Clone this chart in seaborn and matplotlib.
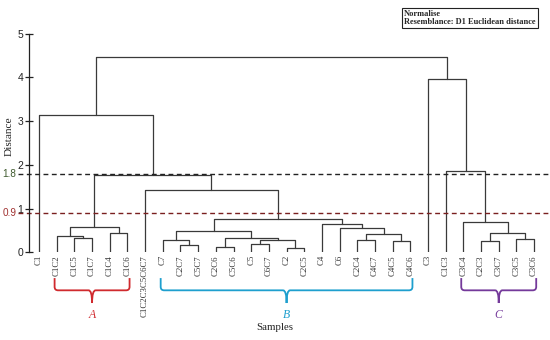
import numpy as np
import pandas as pd
import matplotlib
matplotlib.use("Agg")
import matplotlib.pyplot as plt
from matplotlib.path import Path
from matplotlib.patches import PathPatch
import seaborn as sns

# ---------------- datos ----------------
leaf_labels = ["C1", "C1C2", "C1C5", "C1C7", "C1C4", "C1C6", "C1C2C3C5C6C7",
               "C7", "C2C7", "C5C7", "C2C6", "C5C6", "C5", "C6C7", "C2", "C2C5",
               "C4", "C6", "C2C4", "C4C7", "C4C5", "C4C6",
               "C3", "C1C3", "C3C4", "C2C3", "C3C7", "C3C5", "C3C6"]

# uniones tipo linkage: nodo nuevo = 29 + indice
merge_left = [2, 1, 4, 30, 8, 7, 10, 12, 14, 36, 35, 34, 18, 20, 41, 17, 16, 40, 6, 32, 0,
              25, 27, 50, 24, 23, 22, 49]
merge_right = [3, 29, 5, 31, 9, 33, 11, 13, 15, 37, 38, 39, 19, 21, 42, 43, 44, 45, 46, 47, 48,
               26, 28, 51, 52, 53, 54, 55]
merge_height = [0.32, 0.38, 0.44, 0.585, 0.16, 0.27, 0.11, 0.20, 0.10, 0.28, 0.33, 0.49,
                0.27, 0.26, 0.42, 0.55, 0.64, 0.75, 1.42, 1.77, 3.14,
                0.26, 0.30, 0.45, 0.69, 1.87, 3.97, 4.47]

cut_values = [1.8, 0.9]
cut_labels = ["1.8", "0.9"]

group_names = ["A", "B", "C"]
group_first = ["C1C2", "C7", "C3C4"]
group_last = ["C1C6", "C4C6", "C3C6"]
group_colors = ["#d02a2e", "#1e9fce", "#74399a"]

# ---------------- estilo ----------------
sns.set_style("white")
plt.rcParams['font.family'] = ['Liberation Serif', 'DejaVu Serif']

# ---------------- geometria del dendrograma ----------------
n = len(leaf_labels)
pos_x = {i: float(i) for i in range(n)}
pos_y = {i: 0.0 for i in range(n)}
rows = []
for k, (a, b, h) in enumerate(zip(merge_left, merge_right, merge_height)):
    xa, xb = pos_x[a], pos_x[b]
    for px, py in [(xa, pos_y[a]), (xa, h), (xb, h), (xb, pos_y[b])]:
        rows.append({'seg': k, 'x': px, 'y': py})
    pos_x[n + k] = (xa + xb) / 2
    pos_y[n + k] = h
segs = pd.DataFrame(rows)

fig = plt.figure(figsize=(5.5, 3.4), dpi=100)
ax = fig.add_axes([0.0533, 0.258, 0.9467, 0.643])

sns.lineplot(data=segs, x='x', y='y', units='seg', estimator=None, sort=False,
             color='#3a3a3a', linewidth=0.9, ax=ax, legend=False)

ax.set_xlim(-0.55, 28.9)
ax.set_ylim(0, 5)
for s in ['top', 'right', 'bottom']:
    ax.spines[s].set_visible(False)
ax.spines['left'].set_color('#222222')
ax.spines['left'].set_linewidth(0.9)

ax.set_yticks(range(6))
ax.tick_params(axis='y', direction='inout', length=5.5, width=0.9, pad=1.6,
               labelsize=7.5, colors='#222222', left=True)
for t in ax.get_yticklabels():
    t.set_family(['Liberation Sans', 'DejaVu Sans'])

ax.set_xticks(range(n))
ax.set_xticklabels(leaf_labels, rotation=90, fontsize=6.3, color='#333333')
ax.tick_params(axis='x', length=0, pad=2)
ax.set_xlabel('')
ax.set_ylabel('Distance', fontsize=8.2, color='#222222')
ax.yaxis.set_label_coords(-0.03, 0.532)

# lineas de corte
cut_colors = ['#222222', '#7a1f1f']
cut_text_colors = ['#3f5a2e', '#a0302f']
for v, lab, lc, tc in zip(cut_values, cut_labels, cut_colors, cut_text_colors):
    ax.plot([-1.19, 28.9], [v, v], color=lc, linestyle=(0, (3.5, 2.5)), linewidth=1.0,
            clip_on=False)
    ax.text(-1.66, v, lab, color=tc, fontsize=7.2, ha='center', va='center',
            family=['Liberation Sans', 'DejaVu Sans'], clip_on=False)

# llaves de grupos
def llave(ax, x0, x1, top, base, tip, color):
    xm = (x0 + x1) / 2
    rx, ry = 0.2, 0.08
    verts = [(x0, top), (x0, base + ry), (x0, base), (x0 + rx, base),
             (xm - rx, base), (xm, base), (xm, tip),
             (xm, base), (xm + rx, base),
             (x1 - rx, base), (x1, base), (x1, base + ry), (x1, top)]
    codes = [Path.MOVETO, Path.LINETO, Path.CURVE3, Path.CURVE3,
             Path.LINETO, Path.CURVE3, Path.CURVE3,
             Path.CURVE3, Path.CURVE3,
             Path.LINETO, Path.CURVE3, Path.CURVE3, Path.LINETO]
    ax.add_patch(PathPatch(Path(verts, codes), fill=False, edgecolor=color,
                           linewidth=1.3, clip_on=False))

for name, a, b, col in zip(group_names, group_first, group_last, group_colors):
    x0 = leaf_labels.index(a) - 0.12
    x1 = leaf_labels.index(b) + 0.12
    llave(ax, x0, x1, -0.59, -0.87, -1.16, col)
    ax.text((x0 + x1) / 2, -1.44, name, color=col, fontsize=8.5, style='italic',
            ha='center', va='center', clip_on=False)

ax.text(13.35, -1.72, 'Samples', fontsize=7.8, ha='center', va='center',
        color='#222222', clip_on=False)

fig.text(404 / 550, 1 - 10 / 340, "Normalise\nResemblance: D1 Euclidean distance",
         ha='left', va='top', fontsize=6, fontweight='bold', linespacing=1.05,
         bbox=dict(boxstyle='square,pad=0.25', facecolor='white', edgecolor='#222222',
                   linewidth=0.8))

fig.savefig('out.png', dpi=100)
